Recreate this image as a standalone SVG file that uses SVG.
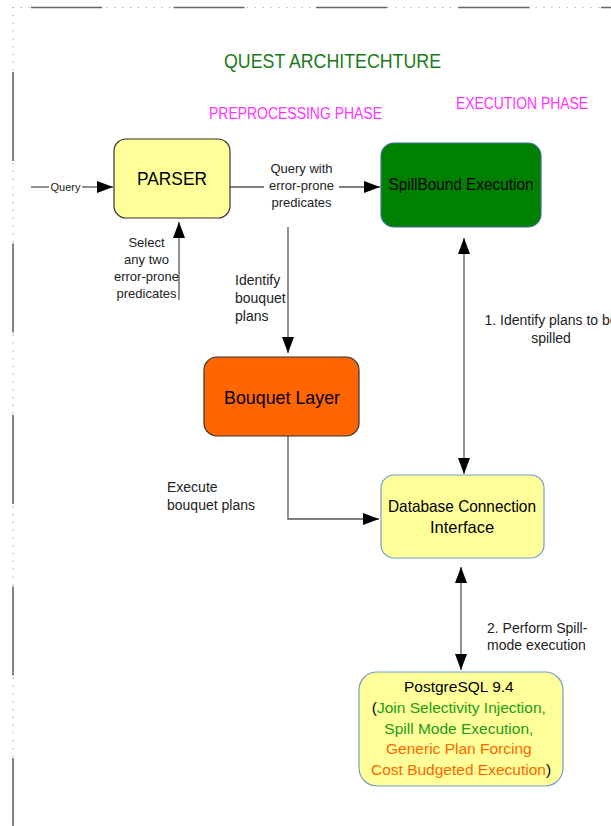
<svg xmlns="http://www.w3.org/2000/svg" width="611" height="826" viewBox="0 0 611 826">
<style>
text{font-family:"Liberation Sans",Arial,sans-serif;}
.lbl{font-size:13px;fill:#222;}
.lbl14{font-size:14px;fill:#222;}
.conn{stroke:#555;stroke-width:1.3;fill:none;}
.phase{font-size:16px;fill:#ff33ff;}
</style>
<defs>
<marker id="ah" viewBox="0 0 16 12" refX="16" refY="6" markerWidth="16" markerHeight="12" markerUnits="userSpaceOnUse" orient="auto-start-reverse">
<path d="M0,0 L16,6 L0,12 z" fill="#000"/>
</marker>
</defs>
<rect width="611" height="826" fill="#fff"/>
<g id="frame">
<line x1="13" y1="7.5" x2="611" y2="7.5" stroke="#aaa" stroke-width="1.2" stroke-dasharray="1.2 6.6"/>
<line x1="31" y1="7.5" x2="611" y2="7.5" stroke="#666" stroke-width="1.6" stroke-dasharray="71 71.5"/>
<line x1="13" y1="7" x2="13" y2="826" stroke="#aaa" stroke-width="1.2" stroke-dasharray="1.2 6.6"/>
<line x1="13" y1="72" x2="13" y2="826" stroke="#666" stroke-width="1.6" stroke-dasharray="89 82.5"/>
</g>
<g id="titles">
<text x="224" y="68" font-size="21" fill="#1a7a1a" textLength="217" lengthAdjust="spacingAndGlyphs">QUEST ARCHITECHTURE</text>
<text class="phase" x="209" y="119" textLength="173" lengthAdjust="spacingAndGlyphs">PREPROCESSING PHASE</text>
<text class="phase" x="456" y="109" textLength="132" lengthAdjust="spacingAndGlyphs">EXECUTION PHASE</text>
</g>
<g id="connectors">
<line class="conn" x1="31" y1="187" x2="49" y2="187"/>
<text x="65.5" y="190.5" font-size="11" fill="#222" text-anchor="middle">Query</text>
<line class="conn" x1="82" y1="187" x2="113" y2="187" marker-end="url(#ah)"/>
<line class="conn" x1="230" y1="187" x2="264" y2="187"/>
<text class="lbl" text-anchor="middle"><tspan x="301.5" y="173">Query with</tspan><tspan x="301.5" y="190">error-prone</tspan><tspan x="301.5" y="207">predicates</tspan></text>
<line class="conn" x1="339" y1="187" x2="380" y2="187" marker-end="url(#ah)"/>
<line class="conn" x1="179" y1="300" x2="179" y2="222" marker-end="url(#ah)"/>
<text class="lbl" text-anchor="middle"><tspan x="146.5" y="247">Select</tspan><tspan x="146.5" y="264">any two</tspan><tspan x="146.5" y="281">error-prone</tspan><tspan x="146.5" y="298">predicates</tspan></text>
<line class="conn" x1="288" y1="227" x2="288" y2="353" marker-end="url(#ah)"/>
<text class="lbl14"><tspan x="235" y="285">Identify</tspan><tspan x="235" y="303">bouquet</tspan><tspan x="235" y="321">plans</tspan></text>
<path class="conn" d="M288,436 V519 H379" marker-end="url(#ah)"/>
<text class="lbl14"><tspan x="167" y="492">Execute</tspan><tspan x="167" y="510">bouquet plans</tspan></text>
<line class="conn" x1="464" y1="238" x2="464" y2="474" marker-start="url(#ah)" marker-end="url(#ah)"/>
<text class="lbl14" text-anchor="middle"><tspan x="551" y="325">1. Identify plans to be</tspan><tspan x="551" y="343">spilled</tspan></text>
<line class="conn" x1="461" y1="567" x2="461" y2="670" marker-start="url(#ah)" marker-end="url(#ah)"/>
<text class="lbl14"><tspan x="487" y="633">2. Perform Spill-</tspan><tspan x="487" y="650">mode execution</tspan></text>
</g>
<g id="parser">
<rect x="114" y="139" width="116" height="79" rx="12" fill="#ffff99" stroke="#333" stroke-width="1.2"/>
<text x="172" y="185" font-size="18.5" text-anchor="middle" textLength="70" lengthAdjust="spacingAndGlyphs">PARSER</text>
</g>
<g id="spillbound">
<rect x="381" y="143" width="160" height="84" rx="13" fill="#008000" stroke="#3e6e9a" stroke-width="1.2"/>
<text x="461" y="190" font-size="16" text-anchor="middle" textLength="145" lengthAdjust="spacingAndGlyphs">SpillBound Execution</text>
</g>
<g id="bouquet">
<rect x="204" y="357" width="155" height="79" rx="13" fill="#ff6600" stroke="#333" stroke-width="1.2"/>
<text x="282" y="404" font-size="19" text-anchor="middle" textLength="116" lengthAdjust="spacingAndGlyphs">Bouquet Layer</text>
</g>
<g id="dbci">
<rect x="381" y="475" width="163" height="83" rx="13" fill="#ffff99" stroke="#729fcf" stroke-width="1.2"/>
<text x="462" y="512" font-size="16.5" text-anchor="middle" textLength="148" lengthAdjust="spacingAndGlyphs">Database Connection</text>
<text x="462" y="533" font-size="16.5" text-anchor="middle">Interface</text>
</g>
<g id="postgresql">
<rect x="359" y="672" width="204" height="114" rx="18" fill="#ffff99" stroke="#729fcf" stroke-width="1.2"/>
<text font-size="15.5" text-anchor="middle">
<tspan x="461" y="692" fill="#000">PostgreSQL 9.4</tspan>
<tspan x="461" y="713"><tspan fill="#000">(</tspan><tspan fill="#1e9a1e">Join Selectivity Injection,</tspan></tspan>
<tspan x="461" y="734" fill="#1e9a1e">Spill Mode Execution,</tspan>
<tspan x="461" y="754" fill="#ff6600">Generic Plan Forcing</tspan>
<tspan x="461" y="775"><tspan fill="#ff6600">Cost Budgeted Execution</tspan><tspan fill="#000">)</tspan></tspan>
</text>
</g>
</svg>
